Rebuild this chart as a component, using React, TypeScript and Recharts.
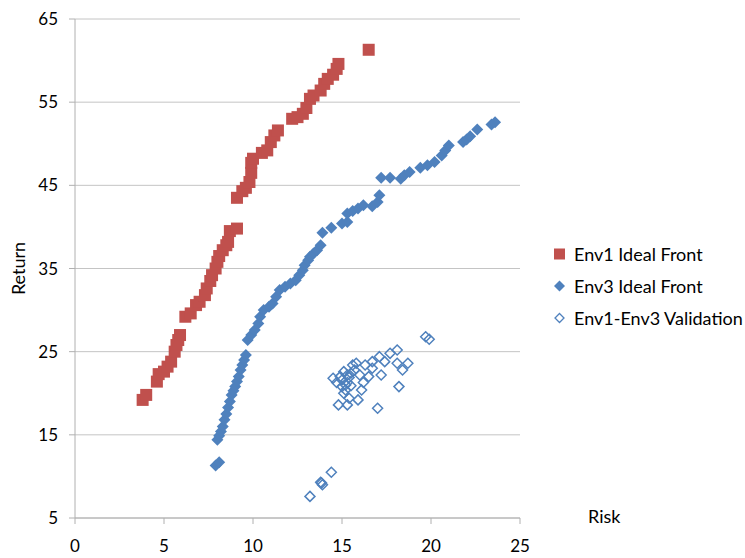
import { ScatterChart, Scatter, XAxis, YAxis, CartesianGrid, Legend } from "recharts";

const RED = "#C0504D";
const BLUE = "#4F81BD";
const FONT = "Lato, 'Open Sans', sans-serif";

const xTicks = [0, 5, 10, 15, 20, 25];
const yTicks = [5, 15, 25, 35, 45, 55, 65];

// [risk, return]
const env1Front = [
  [3.8, 19.2], [4.0, 19.8], [4.6, 21.4], [4.7, 22.3], [5.0, 22.6], [5.2, 23.2], [5.4, 23.8],
  [5.6, 25.0], [5.7, 25.8], [5.8, 26.4], [5.9, 27.0], [6.2, 29.2], [6.5, 29.6], [6.8, 30.6],
  [7.0, 31.0], [7.3, 31.8], [7.4, 32.6], [7.6, 33.5], [7.7, 34.2], [7.9, 35.0], [8.0, 35.8],
  [8.1, 36.5], [8.3, 37.2], [8.5, 37.8], [8.6, 38.2], [8.7, 39.5], [9.1, 39.8], [9.1, 43.5],
  [9.4, 44.3], [9.6, 44.7], [9.8, 45.4], [9.9, 46.5], [9.9, 47.7], [10.0, 48.2], [10.5, 48.9],
  [10.8, 49.2], [11.0, 50.2], [11.2, 51.0], [11.4, 51.6], [12.2, 53.0], [12.5, 53.2],
  [12.8, 53.6], [13.0, 54.3], [13.2, 55.4], [13.4, 55.8], [13.8, 56.4], [14.0, 57.2],
  [14.2, 57.8], [14.5, 58.3], [14.7, 59.0], [14.8, 59.6], [16.5, 61.3],
];

const env3Front = [
  [7.9, 11.3], [8.1, 11.7], [8.0, 14.4], [8.1, 14.9], [8.2, 15.4], [8.3, 16.0], [8.4, 16.8],
  [8.5, 17.5], [8.6, 18.3], [8.7, 19.0], [8.8, 19.8], [8.9, 20.3], [9.0, 20.8], [9.1, 21.4],
  [9.2, 22.0], [9.3, 22.8], [9.4, 23.4], [9.5, 24.0], [9.6, 24.6], [9.7, 26.4], [9.9, 27.0],
  [10.1, 27.6], [10.3, 28.4], [10.4, 29.2], [10.6, 30.0], [10.9, 30.4], [11.1, 30.8],
  [11.3, 31.6], [11.5, 32.4], [11.8, 32.8], [12.1, 33.2], [12.4, 33.6], [12.6, 34.2],
  [12.8, 34.8], [12.9, 35.4], [13.1, 36.0], [13.2, 36.4], [13.4, 36.8], [13.6, 37.2],
  [13.8, 37.8], [13.9, 39.3], [14.4, 39.9], [15.0, 40.4], [15.3, 40.6], [15.3, 41.6],
  [15.6, 41.9], [15.9, 42.2], [16.2, 42.6], [16.7, 42.5], [17.0, 43.0], [17.1, 43.8],
  [17.2, 45.9], [17.7, 45.9], [18.3, 45.8], [18.5, 46.2], [18.8, 46.6], [19.4, 47.1],
  [19.8, 47.4], [20.2, 47.8], [20.6, 48.6], [20.8, 49.2], [21.0, 49.8], [21.8, 50.2],
  [22.0, 50.5], [22.2, 50.9], [22.6, 51.7], [23.4, 52.3], [23.6, 52.6],
];

const validation = [
  [13.2, 7.6], [13.8, 9.3], [13.9, 9.0], [13.85, 9.2], [14.4, 10.5],
  [14.5, 21.8], [14.7, 21.3], [15.1, 22.6], [15.3, 22.2], [15.0, 20.8], [15.2, 20.4],
  [14.8, 18.6], [15.3, 18.6], [15.4, 19.4], [15.9, 19.2], [16.1, 20.4], [16.2, 21.3],
  [16.5, 22.0], [15.6, 23.4], [15.8, 23.6], [16.3, 23.4], [16.7, 23.0], [16.7, 23.8],
  [17.1, 24.4], [17.2, 22.2], [17.4, 23.8], [17.7, 24.8], [18.1, 25.2], [18.1, 23.6],
  [18.4, 22.8], [18.7, 23.6], [18.2, 20.8], [17.0, 18.2], [19.7, 26.8], [19.9, 26.5],
  [15.0, 21.6], [15.2, 21.0], [15.4, 21.9], [15.5, 22.4], [15.1, 20.0], [15.5, 20.9],
  [15.7, 22.8], [16.0, 22.2], [14.9, 22.0], [15.3, 21.3],
];

const toPoints = (arr: number[][]) => arr.map(([x, y]) => ({ x, y }));

const SquareShape = (p: any) => (
  <rect x={p.cx - 6} y={p.cy - 6} width={12} height={12} fill={RED} />
);
const DiamondShape = (p: any) => (
  <path d={`M${p.cx},${p.cy - 6}L${p.cx + 6},${p.cy}L${p.cx},${p.cy + 6}L${p.cx - 6},${p.cy}Z`} fill={BLUE} />
);
const HollowDiamond = (p: any) => (
  <path
    d={`M${p.cx},${p.cy - 5}L${p.cx + 5},${p.cy}L${p.cx},${p.cy + 5}L${p.cx - 5},${p.cy}Z`}
    fill="#fff"
    fillOpacity={0}
    stroke={BLUE}
    strokeWidth={1.5}
  />
);

const legendItems = [
  { label: "Env1 Ideal Front", kind: "square" },
  { label: "Env3 Ideal Front", kind: "diamond" },
  { label: "Env1-Env3 Validation", kind: "hollow" },
];

const LegendContent = () => (
  <div style={{ fontFamily: FONT, fontSize: 18, color: "#000" }}>
    {legendItems.map((it) => (
      <div key={it.label} style={{ display: "flex", alignItems: "center", height: 32, whiteSpace: "nowrap" }}>
        <svg width={18} height={14} style={{ marginRight: 5 }}>
          {it.kind === "square" && <rect x={3} y={1.5} width={11} height={11} fill={RED} />}
          {it.kind === "diamond" && <path d="M8.5,1.5L14,7L8.5,12.5L3,7Z" fill={BLUE} />}
          {it.kind === "hollow" && <path d="M8.5,2.5L13,7L8.5,11.5L4,7Z" fill="none" stroke={BLUE} strokeWidth={1.3} />}
        </svg>
        <span>{it.label}</span>
      </div>
    ))}
  </div>
);

export default function App() {
  return (
    <div style={{ position: "absolute", left: 0, top: 0, background: "#fff" }}>
      <ScatterChart width={745} height={558} margin={{ top: 19, right: 225, bottom: 0, left: 15 }}>
        <CartesianGrid horizontal vertical={false} stroke="#C4C4C4" />
        <XAxis
          type="number"
          dataKey="x"
          domain={[0, 25]}
          ticks={xTicks}
          height={40}
          stroke="#B0B0B0"
          tickSize={6}
          tickMargin={16}
          tick={{ fill: "#000", fontSize: 17, fontFamily: FONT }}
          label={{ value: "Risk", position: "right", offset: 68, dy: -21, fill: "#000", fontSize: 18, fontFamily: FONT }}
        />
        <YAxis
          type="number"
          dataKey="y"
          domain={[5, 65]}
          ticks={yTicks}
          width={60}
          stroke="#B0B0B0"
          tickSize={6}
          tickMargin={11}
          tick={{ fill: "#000", fontSize: 17, fontFamily: FONT }}
          label={{ value: "Return", angle: -90, position: "insideLeft", offset: 4, fill: "#000", fontSize: 18, fontFamily: FONT, style: { textAnchor: "middle" } }}
        />
        <Legend
          layout="vertical"
          align="center"
          verticalAlign="middle"
          content={<LegendContent />}
          wrapperStyle={{ left: 551, top: 238, width: 194 }}
        />
        <Scatter name="Env1 Ideal Front" data={toPoints(env1Front)} shape={SquareShape} isAnimationActive={false} />
        <Scatter name="Env3 Ideal Front" data={toPoints(env3Front)} shape={DiamondShape} isAnimationActive={false} />
        <Scatter name="Env1-Env3 Validation" data={toPoints(validation)} shape={HollowDiamond} isAnimationActive={false} />
      </ScatterChart>
    </div>
  );
}
